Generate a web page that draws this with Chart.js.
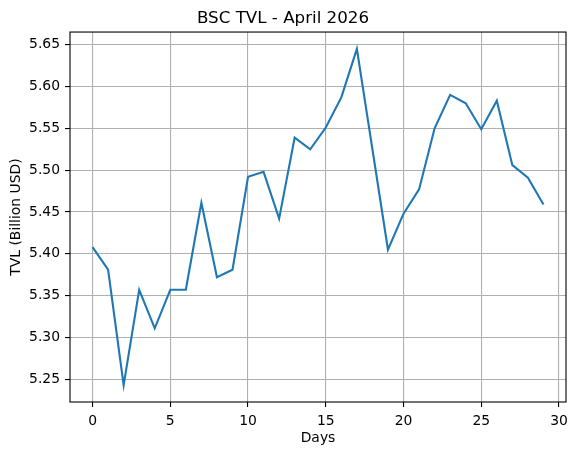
<!DOCTYPE html>
<html>
<head>
<meta charset="utf-8">
<script src="https://cdn.jsdelivr.net/npm/chart.js@4.4.1/dist/chart.umd.min.js"></script>
<style>
  html, body { margin: 0; padding: 0; background: #fff; }
  #wrap { width: 577px; height: 455px; }
</style>
</head>
<body>
<div id="wrap"><canvas id="c" width="577" height="455"></canvas></div>
<script>
const days = [0,1,2,3,4,5,6,7,8,9,10,11,12,13,14,15,16,17,18,19,20,21,22,23,24,25,26,27,28,29];
const tvl = [5.408,5.381,5.243,5.357,5.311,5.357,5.357,5.461,5.372,5.381,
             5.492,5.498,5.442,5.539,5.525,5.551,5.587,5.645,5.525,5.405,
             5.448,5.477,5.550,5.590,5.580,5.549,5.583,5.506,5.491,5.459];
const xTicks = [0,5,10,15,20,25,30];
const yTicks = [5.25,5.30,5.35,5.40,5.45,5.50,5.55,5.60,5.65];

const titleText = 'BSC TVL - April 2026';
const xLabel = 'Days';
const yLabel = 'TVL (Billion USD)';

const FONT = "'DejaVu Sans', sans-serif";

function margins(vals) {
  const lo = Math.min(...vals), hi = Math.max(...vals);
  const m = (hi - lo) * 0.05;
  return [lo - m, hi + m];
}
const [xMin, xMax] = margins(days);
const [yMin, yMax] = margins(tvl);

const boxPlugin = {
  id: 'box',
  afterDatasetsDraw(chart) {
    const {ctx, chartArea: a} = chart;
    ctx.save();
    ctx.strokeStyle = '#000';
    ctx.lineWidth = 1.1;
    ctx.strokeRect(a.left, a.top, a.right - a.left, a.bottom - a.top);
    ctx.restore();
  }
};

new Chart(document.getElementById('c'), {
  type: 'line',
  data: {
    datasets: [{
      data: days.map((d, i) => ({x: d, y: tvl[i]})),
      borderColor: '#1f77b4',
      borderWidth: 2.1,
      pointRadius: 0,
      tension: 0,
      fill: false
    }]
  },
  options: {
    responsive: false,
    animation: false,
    devicePixelRatio: 1,
    layout: { padding: { left: 0, right: 11, top: 0, bottom: 0 } },
    plugins: {
      legend: { display: false },
      tooltip: { enabled: false },
      title: {
        display: true,
        text: titleText,
        color: '#000',
        font: { family: FONT, size: 16.7, weight: 'normal', lineHeight: 1.2 },
        padding: { top: 9, bottom: 3 }
      }
    },
    scales: {
      x: {
        type: 'linear',
        min: xMin,
        max: xMax,
        afterBuildTicks: s => { s.ticks = xTicks.map(v => ({value: v})); },
        afterFit: s => { s.height = 53; },
        grid: { color: '#b0b0b0', lineWidth: 1.1, tickColor: '#000', tickLength: 5, drawTicks: true },
        border: { display: false },
        ticks: {
          color: '#000',
          font: { family: FONT, size: 13.9 },
          padding: 6,
          maxRotation: 0,
          callback: v => String(v)
        },
        title: {
          display: true,
          text: xLabel,
          color: '#000',
          font: { family: FONT, size: 13.9 },
          padding: { top: 0, bottom: 8 }
        }
      },
      y: {
        type: 'linear',
        min: yMin,
        max: yMax,
        afterBuildTicks: s => { s.ticks = yTicks.map(v => ({value: v})); },
        afterFit: s => { s.width = 70; },
        grid: { color: '#b0b0b0', lineWidth: 1.1, tickColor: '#000', tickLength: 5, drawTicks: true },
        border: { display: false },
        ticks: {
          color: '#000',
          font: { family: FONT, size: 13.9 },
          padding: 5,
          callback: v => v.toFixed(2)
        },
        title: {
          display: true,
          text: yLabel,
          color: '#000',
          font: { family: FONT, size: 13.9 },
          padding: { top: 8, bottom: 0 }
        }
      }
    }
  },
  plugins: [boxPlugin]
});
</script>
</body>
</html>
